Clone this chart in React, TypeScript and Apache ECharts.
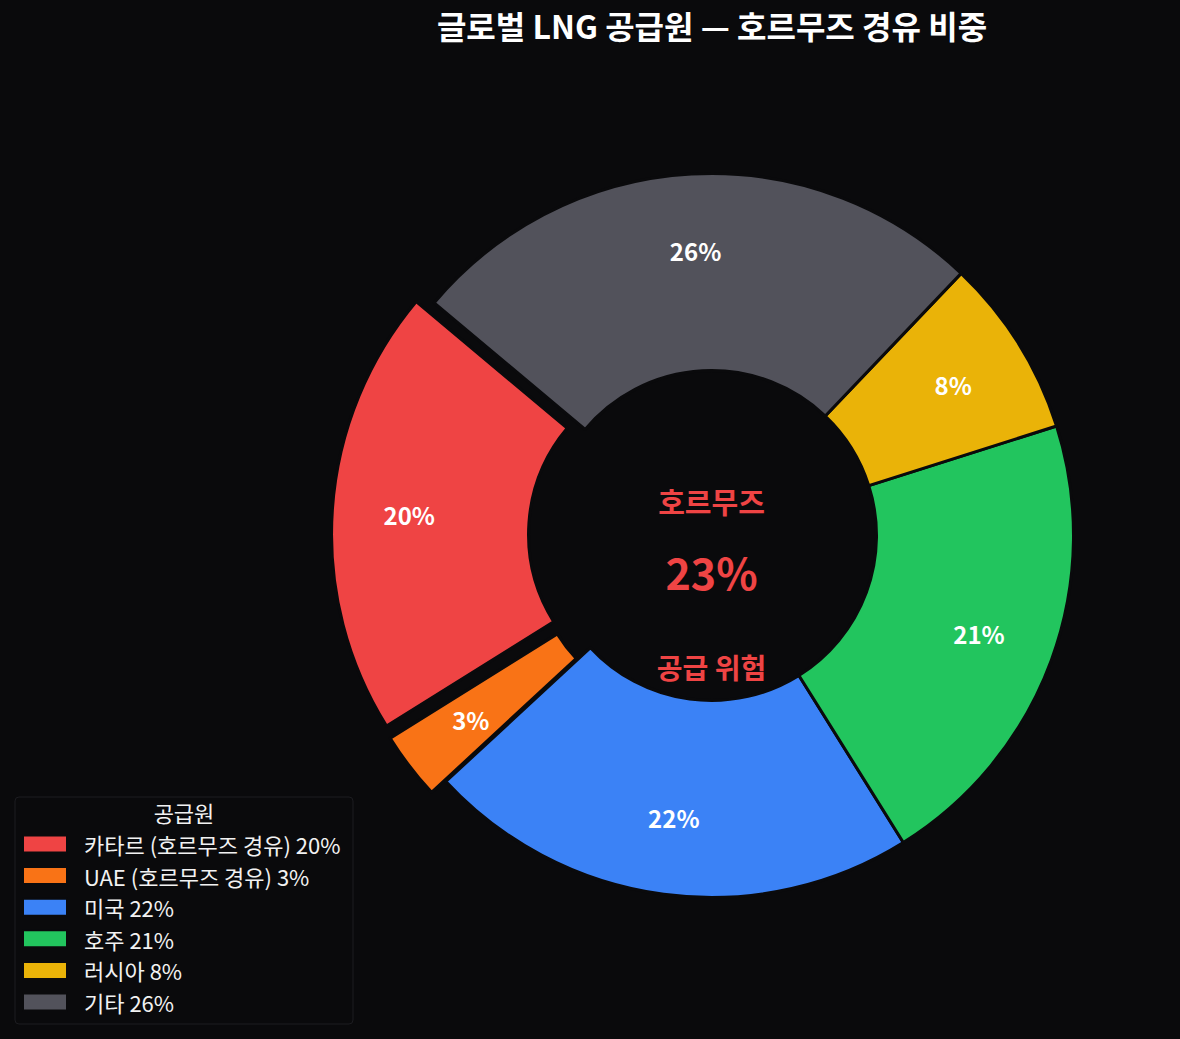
import React, { useEffect, useRef } from "react";
import * as echarts from "echarts";

const BG = "#0a0a0c";
const FONT = "'Noto Sans CJK KR', 'Noto Sans', sans-serif";

const sourceNames = ["카타르 (호르무즈 경유)", "UAE (호르무즈 경유)", "미국", "호주", "러시아", "기타"];
const sourceShares = [20, 3, 22, 21, 8, 26];
const sourceColors = ["#ef4444", "#f97316", "#3b82f6", "#22c55e", "#eab308", "#52525b"];
const explodedFlags = [true, true, false, false, false, false];
const hormuzShare = 23;
const titleText = "글로벌 LNG 공급원 — 호르무즈 경유 비중";
const legendTitle = "공급원";
const centerTop = "호르무즈";
const centerBottom = "공급 위험";

export default function App() {
  const ref = useRef<HTMLDivElement>(null);
  useEffect(() => {
    if (!ref.current) return;
    const chart = echarts.init(ref.current, undefined, { renderer: "svg" });
    const cx = 711.5;
    const cy = 535.5;

    const mainData = sourceNames.map((n, i) => ({
      name: n,
      value: sourceShares[i],
      selected: explodedFlags[i],
      itemStyle: { color: sourceColors[i] },
      select: { itemStyle: { color: sourceColors[i], borderColor: BG, borderWidth: 3 } },
    }));
    const labelData = sourceNames.map((n, i) => ({
      name: "lbl" + i,
      value: sourceShares[i],
      selected: explodedFlags[i],
    }));

    const txt = (text: string, x: number, y: number, fill: string, font: string) => ({
      type: "text",
      z: 5,
      style: {
        text,
        x,
        y,
        textAlign: "center",
        textVerticalAlign: "middle",
        align: "center",
        verticalAlign: "middle",
        fill,
        font,
      },
    });

    chart.setOption({
      animation: false,
      backgroundColor: BG,
      legend: {
        orient: "vertical",
        left: 22,
        top: 833,
        padding: 0,
        itemWidth: 44,
        itemHeight: 17,
        itemGap: 9.6,
        icon: "rect",
        selectedMode: false,
        data: sourceNames.map((n, i) => ({ name: n, itemStyle: { color: sourceColors[i] } })),
        formatter: (name: string) => {
          const i = sourceNames.indexOf(name);
          return `${name} ${sourceShares[i]}%`;
        },
        textStyle: {
          color: "#f2f2f2",
          fontSize: 22,
          lineHeight: 22,
          fontFamily: FONT,
          padding: [0, 0, 0, 12],
        },
        z: 10,
      },
      graphic: [
        {
          type: "rect",
          z: 1,
          shape: { x: 15, y: 797, width: 338, height: 227, r: 4 },
          style: { fill: BG, stroke: "#1c1c20", lineWidth: 1 },
        },
        txt(legendTitle, 184, 812, "#f2f2f2", `22px ${FONT}`),
        txt(titleText, 712, 25, "#ffffff", `bold 32px ${FONT}`),
        txt(centerTop, cx, 501, "#ef4444", `bold 29px ${FONT}`),
        txt(`${hormuzShare}%`, cx, 571, "#ef4444", `bold 43px ${FONT}`),
        txt(centerBottom, cx, 667, "#ef4444", `bold 28px ${FONT}`),
      ],
      series: [
        {
          type: "pie",
          center: [cx, cy],
          radius: [165, 362],
          startAngle: 140,
          clockwise: false,
          selectedMode: "multiple",
          selectedOffset: 18,
          avoidLabelOverlap: false,
          label: { show: false },
          labelLine: { show: false },
          emphasis: { disabled: true },
          itemStyle: { borderColor: BG, borderWidth: 3 },
          data: mainData,
        },
        {
          type: "pie",
          center: [cx, cy],
          radius: [204, 360],
          startAngle: 140,
          clockwise: false,
          selectedMode: "multiple",
          selectedOffset: 18,
          silent: true,
          avoidLabelOverlap: false,
          emphasis: { disabled: true },
          itemStyle: { color: "rgba(0,0,0,0)", borderWidth: 0 },
          select: { itemStyle: { color: "rgba(0,0,0,0)", borderWidth: 0 } },
          labelLine: { show: false },
          label: {
            show: true,
            position: "inside",
            color: "#ffffff",
            fontSize: 24,
            fontWeight: "bold",
            fontFamily: FONT,
            formatter: (p: any) => `${p.value}%`,
          },
          data: labelData,
        },
      ],
    });
    return () => chart.dispose();
  }, []);
  return (
    <div
      ref={ref}
      style={{ position: "absolute", left: 0, top: 0, width: 1180, height: 1039 }}
    />
  );
}
